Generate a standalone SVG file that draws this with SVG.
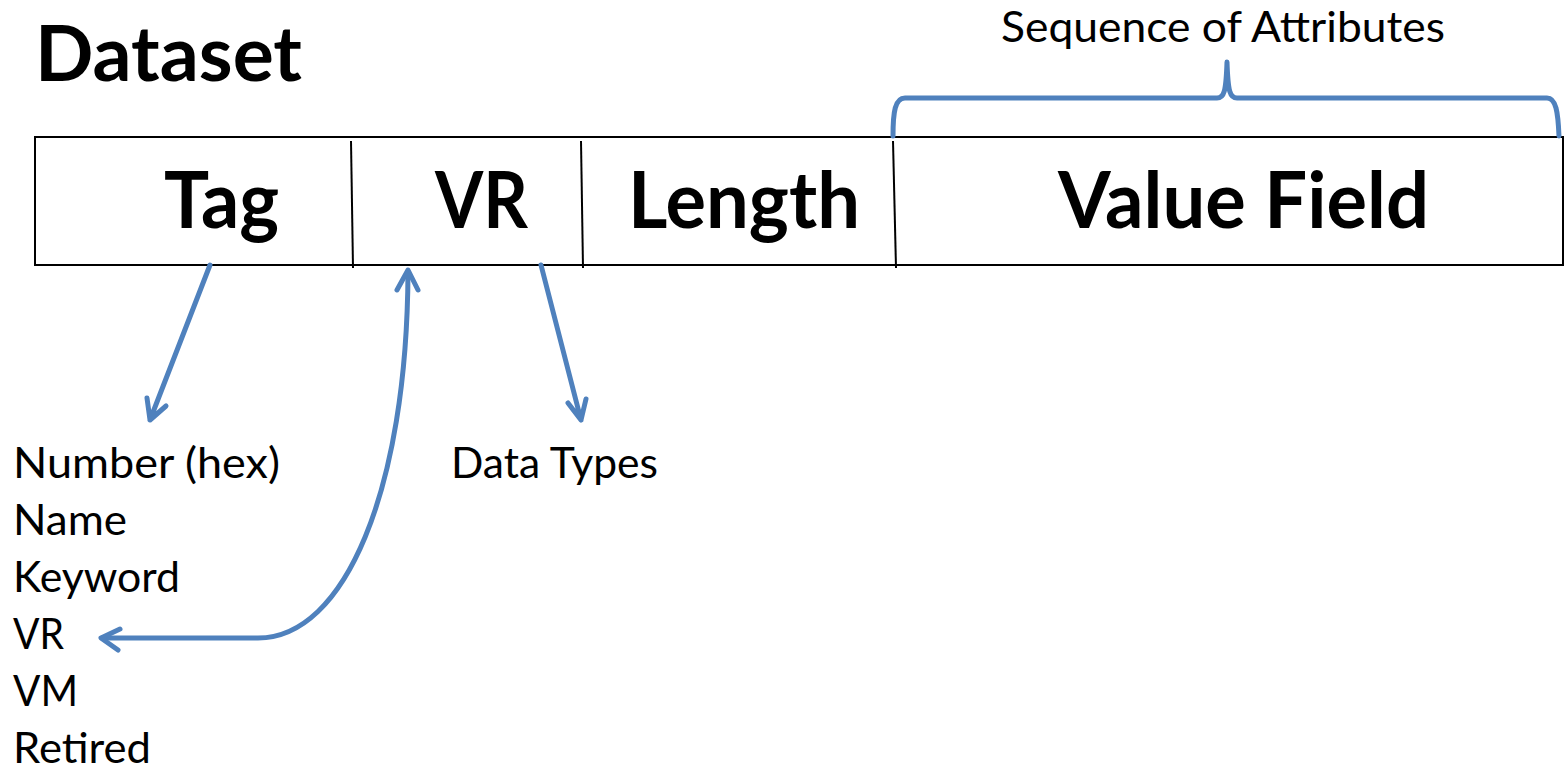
<svg xmlns="http://www.w3.org/2000/svg" width="1564" height="769" viewBox="0 0 1564 769">
<style>
.t{font-family:Lato,"Open Sans","Liberation Sans",sans-serif;fill:#000}
.b{font-weight:bold}
.cell{fill:none;stroke:#000;stroke-width:2}
.blue{fill:none;stroke:#4F81BD;stroke-width:5;stroke-linecap:round;stroke-linejoin:round}
</style>
<rect width="1564" height="769" fill="#fff"/>
<text class="t b" x="35" y="81" font-size="76" textLength="267" lengthAdjust="spacingAndGlyphs">Dataset</text>
<g id="record">
<rect class="cell" x="35" y="137" width="1528" height="128"/>
<line class="cell" x1="351" y1="141" x2="353" y2="268"/>
<line class="cell" x1="581" y1="141" x2="583" y2="268"/>
<line class="cell" x1="893" y1="141" x2="896" y2="268"/>
</g>
<g id="tag"><text class="t b" x="164" y="228" font-size="79" textLength="115" lengthAdjust="spacingAndGlyphs">Tag</text></g>
<g id="vr"><text class="t b" x="435" y="228" font-size="79" textLength="93" lengthAdjust="spacingAndGlyphs">VR</text></g>
<g id="length"><text class="t b" x="628" y="228" font-size="79" textLength="232" lengthAdjust="spacingAndGlyphs">Length</text></g>
<g id="value"><text class="t b" x="1058" y="228" font-size="79" textLength="371" lengthAdjust="spacingAndGlyphs">Value Field</text></g>
<g id="seq">
<path class="blue" d="M893,136 C893,112 895,98 905,98 L1217,98 C1224,98 1226,92 1227,62 C1228,92 1230,98 1237,98 L1547,98 C1556,98 1558,112 1559,136"/>
<text class="t" x="1001" y="42" font-size="42" textLength="444" lengthAdjust="spacingAndGlyphs">Sequence of Attributes</text>
</g>
<g id="tag-attrs">
<text class="t" x="13" y="478" font-size="42" textLength="267" lengthAdjust="spacingAndGlyphs">Number (hex)</text>
<text class="t" x="13" y="535" font-size="42" textLength="114" lengthAdjust="spacingAndGlyphs">Name</text>
<text class="t" x="13" y="592" font-size="42" textLength="167" lengthAdjust="spacingAndGlyphs">Keyword</text>
<text class="t" x="13" y="649" font-size="42" textLength="51" lengthAdjust="spacingAndGlyphs">VR</text>
<text class="t" x="13" y="706" font-size="42" textLength="65" lengthAdjust="spacingAndGlyphs">VM</text>
<text class="t" x="13" y="763" font-size="42" textLength="138" lengthAdjust="spacingAndGlyphs">Retired</text>
</g>
<g id="datatypes"><text class="t" x="451" y="478" font-size="42" textLength="207" lengthAdjust="spacingAndGlyphs">Data Types</text></g>
<g id="connectors">
<path class="blue" d="M210,265 L150,420 M147,398 L150,420 L166,406"/>
<path class="blue" d="M541,265 L581,420 M568,403 L581,420 L586,399"/>
<path class="blue" d="M408,272 C407,490 345,638 258,638 L102,638"/>
<path class="blue" d="M397,290 L408,270 L418,290"/>
<path class="blue" d="M120,629 L101,638 L118,650"/>
</g>
</svg>
